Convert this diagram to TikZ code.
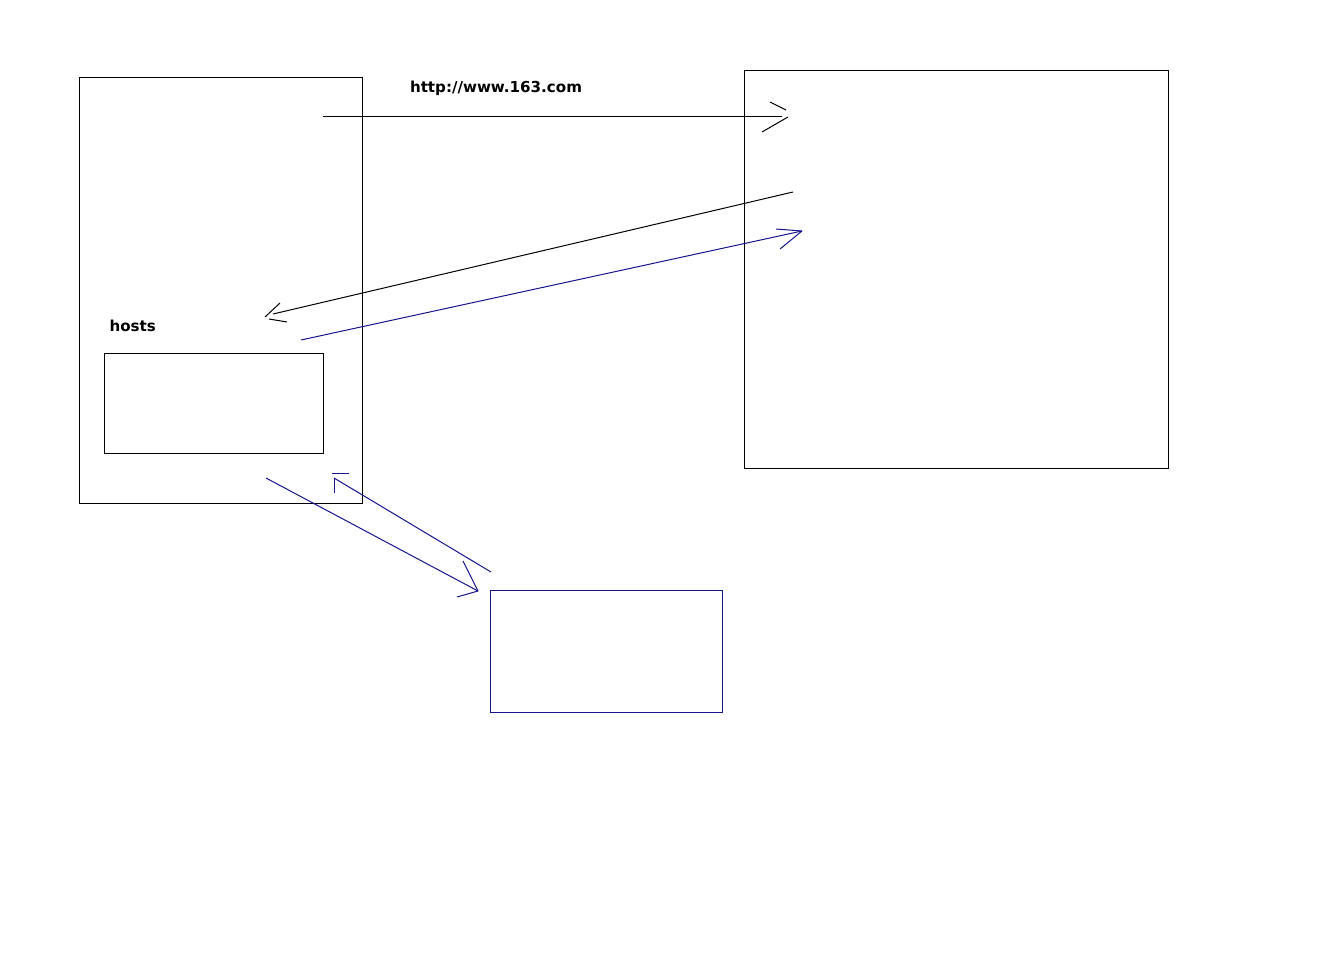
\documentclass[tikz,border=0pt]{standalone}
\usepackage{fontspec}
\setmainfont{DejaVu Sans}
\definecolor{penblue}{RGB}{20,20,140}
\begin{document}
\begin{tikzpicture}[x=1pt,y=-1pt,line width=1pt,
  box/.style={draw=black,inner sep=0pt,outer sep=0pt},
  bluebox/.style={draw=penblue,inner sep=0pt,outer sep=0pt},
  lbl/.style={font=\fontsize{15.1}{16}\selectfont\bfseries,inner sep=0pt,anchor=base west},
  blk/.style={draw=black},
  blu/.style={draw=penblue}]
\useasboundingbox (0,0) rectangle (1343,971);
% boxes
\node[box,minimum width=283pt,minimum height=426pt,anchor=north west] (client) at (79.5,77.5) {};
\node[box,minimum width=219pt,minimum height=100pt,anchor=north west] (hostsbox) at (104.5,353.5) {};
\node[box,minimum width=424pt,minimum height=398pt,anchor=north west] (server) at (744.5,70.5) {};
\node[bluebox,minimum width=232pt,minimum height=122pt,anchor=north west] (dns) at (490.5,590.5) {};
% labels
\node[lbl] (url) at (409.5,92.5) {http://www.163.com};
\node[lbl] (hosts) at (109,331) {hosts};
% arrow 1: request to server
\coordinate (a1s) at (323,116.5);
\coordinate (a1e) at (782,116.5);
\draw[blk] (a1s) -- (a1e);
\draw[blk] (770,102) -- (786,110);
\draw[blk] (762,132) -- (788,117);
% arrow 2: server back to hosts
\coordinate (a2s) at (793,192);
\coordinate (a2e) at (273,314);
\draw[blk] (a2s) -- (a2e);
\draw[blk] (280,303) -- (265,317);
\draw[blk] (269,319) -- (287,322);
% arrow 3: hosts to server (blue)
\coordinate (a3s) at (301,340);
\coordinate (a3e) at (802,231);
\draw[blu] (a3s) -- (a3e);
\draw[blu] (776,229) -- (802,231);
\draw[blu] (780,249) -- (802,231);
% arrow 4: dns back to client
\coordinate (a4s) at (491,572);
\coordinate (a4e) at (334,478);
\draw[blu] (a4s) -- (a4e);
\draw[blu] (334,478) -- (334,493);
\draw[blu] (332,473) -- (349,473);
% arrow 5: client to dns
\coordinate (a5s) at (266,478);
\coordinate (a5e) at (478,591);
\draw[blu] (a5s) -- (a5e);
\draw[blu] (463,561) -- (478,591);
\draw[blu] (457,597) -- (478,591);
\end{tikzpicture}
\end{document}
